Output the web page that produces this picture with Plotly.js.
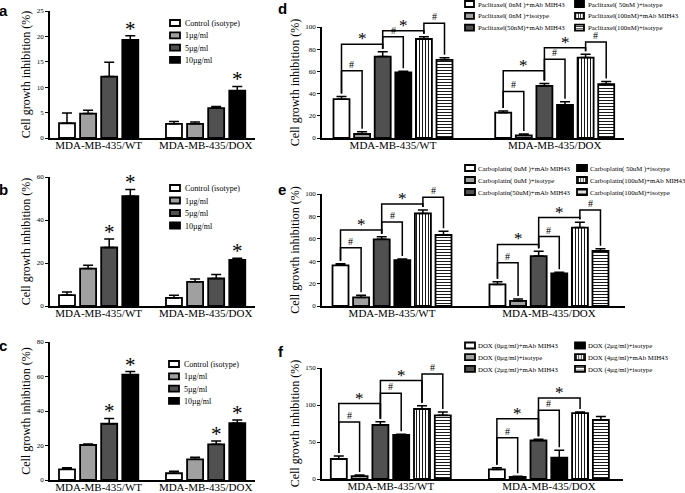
<!DOCTYPE html>
<html><head><meta charset="utf-8">
<script src="https://cdn.plot.ly/plotly-3.0.1.min.js"></script>
<style>html,body{margin:0;padding:0;background:#fff}</style>
</head><body><div id="chart" style="width:685px;height:493px"></div>
<script>
// ---------------- data ----------------
const groupNames = ['MDA-MB-435/WT', 'MDA-MB-435/DOX'];
const doseNames = ['Control (isotype)', '1µg/ml', '5µg/ml', '10µg/ml'];

const aWT = [2.9, 4.8, 12.1, 19.3];
const aWTerr = [2.0, 0.65, 2.8, 0.85];
const aDOX = [2.8, 2.8, 5.9, 9.3];
const aDOXerr = [0.45, 0.35, 0.3, 0.85];
const aStars = [[0, 3], [1, 3]];

const bWT = [5.1, 17.4, 27.2, 51.1];
const bWTerr = [1.4, 1.6, 4.0, 3.1];
const bDOX = [3.75, 11.25, 12.8, 21.4];
const bDOXerr = [1.25, 1.25, 1.9, 0.8];
const bStars = [[0, 2], [0, 3], [1, 3]];

const cWT = [6.2, 20.3, 32.6, 61.0];
const cWTerr = [0.9, 0.6, 3.1, 1.9];
const cDOX = [3.9, 12.0, 20.7, 32.9];
const cDOXerr = [1.2, 1.2, 1.9, 1.9];
const cStars = [[0, 2], [0, 3], [1, 2], [1, 3]];

const dNames = ['Paclitaxel( 0nM )+mAb MIH43', 'Paclitaxel( 0nM )+isotype', 'Paclitaxel(50nM)+mAb MIH43',
                'Paclitaxel( 50nM )+isotype', 'Paclitaxel(100nM)+mAb MIH43', 'Paclitaxel(100nM)+isotype'];
const dWT = [35.0, 3.6, 73.4, 59.0, 89.2, 70.4];
const dWTerr = [2.4, 2.1, 4.2, 1.2, 2.1, 1.8];
const dDOX = [22.8, 2.4, 47.0, 29.9, 72.5, 48.5];
const dDOXerr = [1.5, 1.2, 2.1, 2.7, 3.0, 2.4];
const dBracketWT = [60.5, 84.4, 91.3, 96.7, 103.3];
const dBracketDOX = [41.9, 60.5, 71.0, 81.4, 86.5];

const eNames = ['Carboplatin( 0uM )+mAb MIH43', 'Carboplatin( 0uM )+isotype', 'Carboplatin(50uM)+mAb MIH43',
                'Carboplatin( 50uM )+isotype', 'Carboplatin(100uM)+mAb MIH43', 'Carboplatin(100uM)+isotype'];
const eWT = [36.3, 7.7, 59.5, 41.0, 82.7, 63.4];
const eWTerr = [1.5, 2.0, 2.4, 0.9, 3.0, 3.3];
const eDOX = [19.3, 4.5, 44.6, 29.2, 70.0, 49.1];
const eDOXerr = [2.4, 1.8, 4.2, 0.9, 4.8, 2.1];
const eBracketWT = [52.0, 67.9, 75.0, 91.0, 97.0];
const eBracketDOX = [38.7, 55.0, 62.0, 79.0, 85.7];

const fNames = ['DOX (0µg/ml)+mAb MIH43', 'DOX (0µg/ml)+isotype', 'DOX (2µg/ml)+mAb MIH43',
                'DOX (2µg/ml)+isotype', 'DOX (4µg/ml)+mAb MIH43', 'DOX (4µg/ml)+isotype'];
const fWT = [27.0, 4.0, 73.0, 59.5, 94.6, 86.0];
const fWTerr = [4.0, 1.5, 4.5, 1.0, 4.5, 4.5];
const fDOX = [13.0, 2.7, 52.0, 28.8, 89.0, 80.0];
const fDOXerr = [2.3, 0.9, 1.8, 9.9, 1.4, 4.5];
const fBracketWT = [77.0, 102.0, 116.0, 133.0, 142.0];
const fBracketDOX = [55.9, 81.5, 92.8, 109.5, null];

// comparisons drawn as brackets: [barA, barB, mark]
const bracketPairs = [[0, 1, '#'], [0, 2, '*'], [2, 3, '#'], [2, 4, '*'], [4, 5, '#']];

// ---------------- layout / style ----------------
const W = 685, H = 493;
const SERIF = 'Liberation Serif, Times New Roman, serif';
const geo = {
  a: {ax: '',  xl: 50,  xr: 255, yb: 138, yt: 11,  c0: 67,    u: 21.1, G: 5.07, ymax: 25,  dtick: 5},
  b: {ax: '2', xl: 50,  xr: 255, yb: 306, yt: 177, c0: 67,    u: 21.1, G: 5.07, ymax: 60,  dtick: 20},
  c: {ax: '3', xl: 50,  xr: 255, yb: 480, yt: 342, c0: 67,    u: 21.1, G: 5.07, ymax: 80,  dtick: 20},
  d: {ax: '4', xl: 322, xr: 624, yb: 138, yt: 27,  c0: 341.5, u: 20.6, G: 7.85, ymax: 100, dtick: 20},
  e: {ax: '5', xl: 322, xr: 625, yb: 306, yt: 194, c0: 340.5, u: 20.6, G: 7.62, ymax: 100, dtick: 20},
  f: {ax: '6', xl: 322, xr: 623, yb: 479, yt: 368, c0: 338.8, u: 20.8, G: 7.6,  ymax: 150, dtick: 50}
};
const fills = [
  {color: '#ffffff'},
  {color: '#a0a0a0'},
  {color: '#505050'},
  {color: '#000000'},
  {color: '#ffffff', pattern: {shape: '|', fgcolor: '#000', bgcolor: '#fff', size: 3, solidity: 0.3}},
  {color: '#ffffff', pattern: {shape: '-', fgcolor: '#000', bgcolor: '#fff', size: 3, solidity: 0.3}}
];
// legend placement (pixels)
const legendSpec = {
  legend:  {boxLeft: 170, boxW: 10, boxH: 6, first: 23,    sp: 12.3, gap: 5, size: 8},
  legend2: {boxLeft: 170, boxW: 10, boxH: 6, first: 188,   sp: 12.5, gap: 5, size: 8},
  legend3: {boxLeft: 169, boxW: 10, boxH: 6, first: 364,   sp: 12.3, gap: 5, size: 8},
  legend4: {boxLeft: 465, boxW: 9,  boxH: 6, first: 4,     sp: 11.8, gap: 4, size: 6.8},
  legend5: {boxLeft: 575, boxW: 9,  boxH: 6, first: 4,     sp: 11.8, gap: 4, size: 6.8},
  legend6: {boxLeft: 465, boxW: 10, boxH: 6, first: 168,   sp: 12,   gap: 3, size: 6.8},
  legend7: {boxLeft: 577, boxW: 10, boxH: 6, first: 168,   sp: 12,   gap: 3, size: 6.8},
  legend8: {boxLeft: 465, boxW: 10, boxH: 6, first: 345.5, sp: 11.7, gap: 3, size: 6.8},
  legend9: {boxLeft: 575, boxW: 10, boxH: 6, first: 345.5, sp: 11.7, gap: 3, size: 6.8}
};

function pos(g, grp, i) { return grp * g.G + i; }
function yPaper(g, v) { return 1 - (g.yb - (g.yb - g.yt) * v / g.ymax) / H; }

const traces = [], shapes = [], annotations = [];
const layout = {
  width: W, height: H, margin: {l: 0, r: 0, t: 0, b: 0, autoexpand: false},
  paper_bgcolor: '#fff', plot_bgcolor: 'rgba(0,0,0,0)',
  barmode: 'overlay', showlegend: true,
  font: {family: SERIF, color: '#000'},
  shapes: shapes, annotations: annotations
};

function panel(key, names, wt, wtErr, dox, doxErr, legendIds) {
  const g = geo[key];
  const xa = 'x' + g.ax, ya = 'y' + g.ax;
  const bw = 16 / g.u;
  names.forEach((nm, i) => {
    const f = fills[i];
    const marker = {color: f.color, line: {color: '#000', width: 1.8}};
    if (f.pattern) marker.pattern = f.pattern;
    traces.push({
      type: 'bar', name: nm, xaxis: xa, yaxis: ya, legend: legendIds[i],
      x: [pos(g, 0, i), pos(g, 1, i)], y: [wt[i], dox[i]], width: bw,
      marker: marker, hoverinfo: 'skip',
      error_y: {type: 'data', symmetric: false, array: [wtErr[i], doxErr[i]], arrayminus: [0, 0],
                color: '#000', thickness: 1.5, width: 5}
    });
  });
  const n = names.length;
  layout['xaxis' + g.ax] = {
    domain: [g.xl / W, g.xr / W], anchor: ya,
    range: [(g.xl - g.c0) / g.u, (g.xr - g.c0) / g.u],
    tickvals: [pos(g, 0, (n - 1) / 2), pos(g, 1, (n - 1) / 2)], ticktext: groupNames,
    ticks: '', ticklabelstandoff: -4,
    showline: true, linecolor: '#000', linewidth: 2, showgrid: false, zeroline: false,
    tickfont: {family: SERIF, size: 11, color: '#000'}, fixedrange: true
  };
  layout['yaxis' + g.ax] = {
    domain: [1 - g.yb / H, 1 - g.yt / H], anchor: xa,
    range: [0, g.ymax], dtick: g.dtick, tick0: 0,
    ticks: 'outside', ticklen: 3, tickwidth: 1, tickcolor: '#000',
    showline: true, linecolor: '#000', linewidth: 1.8, showgrid: false, zeroline: false,
    tickfont: {family: SERIF, size: 7, color: '#000'}, fixedrange: true,
    title: {text: 'Cell growth inhibition (%)', font: {family: SERIF, size: 12, color: '#000'}, standoff: 3}
  };
}

function stars(key, wt, wtErr, dox, doxErr, list) {
  const g = geo[key];
  list.forEach(([grp, i]) => {
    const top = grp === 0 ? wt[i] + wtErr[i] : dox[i] + doxErr[i];
    annotations.push({xref: 'x' + g.ax, yref: 'y' + g.ax, x: pos(g, grp, i), y: top,
      text: '*', showarrow: false, yanchor: 'bottom', yshift: -7,
      font: {family: SERIF, size: 21, color: '#000'}});
  });
}

function brackets(key, wt, wtErr, dox, doxErr, levWT, levDOX) {
  const g = geo[key];
  const gap = 3 * g.ymax / (g.yb - g.yt);
  [[wt, wtErr, levWT], [dox, doxErr, levDOX]].forEach(([vals, errs, levs], grp) => {
    bracketPairs.forEach(([a, b, mark], k) => {
      const lev = levs[k];
      if (lev === null || lev === undefined) return;
      const xa = pos(g, grp, a), xb = pos(g, grp, b);
      const ya = yPaper(g, vals[a] + errs[a] + gap), yb = yPaper(g, vals[b] + errs[b] + gap);
      const yl = yPaper(g, lev);
      shapes.push({type: 'path', xref: 'x' + g.ax, yref: 'paper',
        path: `M${xa},${ya}L${xa},${yl}L${xb},${yl}L${xb},${yb}`,
        line: {color: '#000', width: 1.5}});
      annotations.push({xref: 'x' + g.ax, yref: 'paper', x: (xa + xb) / 2, y: yl,
        text: mark, showarrow: false, yanchor: 'bottom',
        yshift: mark === '*' ? -6 : -1,
        font: {family: SERIF, size: mark === '*' ? 17 : 10, color: '#000'}});
    });
  });
}

panel('a', doseNames, aWT, aWTerr, aDOX, aDOXerr, ['legend', 'legend', 'legend', 'legend']);
panel('b', doseNames, bWT, bWTerr, bDOX, bDOXerr, ['legend2', 'legend2', 'legend2', 'legend2']);
panel('c', doseNames, cWT, cWTerr, cDOX, cDOXerr, ['legend3', 'legend3', 'legend3', 'legend3']);
panel('d', dNames, dWT, dWTerr, dDOX, dDOXerr, ['legend4', 'legend4', 'legend4', 'legend5', 'legend5', 'legend5']);
panel('e', eNames, eWT, eWTerr, eDOX, eDOXerr, ['legend6', 'legend6', 'legend6', 'legend7', 'legend7', 'legend7']);
panel('f', fNames, fWT, fWTerr, fDOX, fDOXerr, ['legend8', 'legend8', 'legend8', 'legend9', 'legend9', 'legend9']);

stars('a', aWT, aWTerr, aDOX, aDOXerr, aStars);
stars('b', bWT, bWTerr, bDOX, bDOXerr, bStars);
stars('c', cWT, cWTerr, cDOX, cDOXerr, cStars);
brackets('d', dWT, dWTerr, dDOX, dDOXerr, dBracketWT, dBracketDOX);
brackets('e', eWT, eWTerr, eDOX, eDOXerr, eBracketWT, eBracketDOX);
brackets('f', fWT, fWTerr, fDOX, fDOXerr, fBracketWT, fBracketDOX);

[['a', 4, 10], ['b', 4, 189], ['c', 3, 345], ['d', 282, 8], ['e', 282, 189], ['f', 281, 351]].forEach(([t, x, y]) => {
  annotations.push({xref: 'paper', yref: 'paper', x: x / W, y: 1 - y / H, text: '<b>' + t + '</b>',
    showarrow: false, xanchor: 'center', yanchor: 'middle',
    font: {family: 'Liberation Sans, Arial, sans-serif', size: 15, color: '#000'}});
});

Object.keys(legendSpec).forEach(id => {
  const s = legendSpec[id];
  layout[id] = {
    x: Math.min(0.7, (s.boxLeft + s.boxW / 2 - 20) / W), y: Math.min(1, 1 - (s.first - 14.5) / H),
    xanchor: 'left', yanchor: 'top', bgcolor: 'rgba(0,0,0,0)', borderwidth: 0,
    font: {family: SERIF, size: s.size, color: '#000'}, tracegroupgap: 0, itemclick: false, itemdoubleclick: false
  };
});

// tighten the legend rows to the compact spacing of the original figure
function fixLegends(gd) {
  const info = gd.querySelector('.infolayer');
  if (!info) return;
  const gr = gd.getBoundingClientRect();
  Object.keys(legendSpec).forEach(id => {
    const s = legendSpec[id];
    const lg = Array.from(info.children).find(e => e.classList && e.classList.contains(id));
    if (!lg) return;
    lg.querySelectorAll('[clip-path]').forEach(e => e.removeAttribute('clip-path'));
    lg.querySelectorAll('g.traces').forEach((tr, k) => {
      const path = tr.querySelector('.legendpoints path');
      if (!path) return;
      path.setAttribute('d', `M${s.boxW / 2},${s.boxH / 2}H${-s.boxW / 2}V${-s.boxH / 2}H${s.boxW / 2}Z`);
      const m = /translate\(\s*([-\d.e]+)[\s,]+([-\d.e]+)\s*\)/.exec(tr.getAttribute('transform') || '');
      let tx = m ? +m[1] : 0, ty = m ? +m[2] : 0;
      const r = path.getBoundingClientRect();
      const wantX = gr.left + s.boxLeft + s.boxW / 2, wantY = gr.top + s.first + k * s.sp;
      tx += wantX - (r.left + r.right) / 2;
      ty += wantY - (r.top + r.bottom) / 2;
      tr.setAttribute('transform', `translate(${tx},${ty})`);
      const txt = tr.querySelector('text');
      if (txt) {
        const tb = txt.getBoundingClientRect();
        const nx = (+txt.getAttribute('x') || 0) + (wantX + s.boxW / 2 + s.gap - tb.left);
        txt.setAttribute('x', nx);
        txt.querySelectorAll('tspan.line').forEach(t => t.setAttribute('x', nx));
      }
    });
  });
}

const gd = document.getElementById('chart');
Plotly.newPlot(gd, traces, layout, {staticPlot: true, displayModeBar: false}).then(() => fixLegends(gd));
</script>
</body></html>
